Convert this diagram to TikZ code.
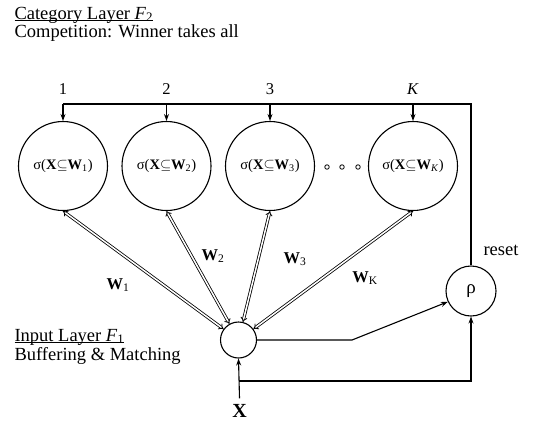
\documentclass[tikz,border=0pt]{standalone}
\usepackage{fontspec}
\setmainfont{Liberation Serif}
\usetikzlibrary{arrows.meta,positioning}

\begin{document}
\begin{tikzpicture}[
    x=1pt, y=-1pt,
    line width=1.1pt,
    category/.style={circle, draw, minimum size=89pt, inner sep=0pt, font=\fontsize{14.5}{16}\selectfont},
    input/.style={circle, draw, minimum size=36pt, inner sep=0pt},
    vigilance/.style={circle, draw, minimum size=50pt, inner sep=0pt, font=\fontsize{19}{20}\selectfont},
    dotnode/.style={circle, draw, line width=0.8pt, minimum size=4.5pt, inner sep=0pt},
    layertext/.style={font=\fontsize{18.5}{18}\selectfont, anchor=base west, inner sep=0pt},
    idx/.style={font=\fontsize{16.5}{18}\selectfont, anchor=base, inner sep=0pt},
    weight/.style={font=\fontsize{16.5}{18}\selectfont, anchor=base, inner sep=0pt},
    arrow/.style={-{Stealth[length=7pt,width=5pt]}},
    bidir/.style={{Implies[scale=1.25]}-{Implies[scale=1.25]}, double, double distance=1.5pt, line width=0.8pt}
]
\useasboundingbox (0,0) rectangle (537,429);

% Layer captions
\node[layertext] (f2_title) at (14,19) {\underline{\smash{Category Layer \textit{F}\textsubscript{2}}}};
\node[layertext] (f2_sub) at (14,37.5) {Competition: Winner takes all};
\node[layertext] (f1_title) at (14,341) {\underline{\smash{Input Layer \textit{F}\textsubscript{1}}}};
\node[layertext] (f1_sub) at (14,360) {Buffering \& Matching};

% Category nodes
\node[category] (cat_1) at (63,166) {σ(\textbf{X}$\subseteq$\textbf{W}\textsubscript{1})};
\node[category] (cat_2) at (166.5,166) {σ(\textbf{X}$\subseteq$\textbf{W}\textsubscript{2})};
\node[category] (cat_3) at (270,166) {σ(\textbf{X}$\subseteq$\textbf{W}\textsubscript{3})};
\node[category] (cat_K) at (413,166) {σ(\textbf{X}$\subseteq$\textbf{W}\textsubscript{\textit{K}})};
\node[dotnode] (dot_a) at (327,167) {};
\node[dotnode] (dot_b) at (342,167) {};
\node[dotnode] (dot_c) at (358,167) {};

% Indices
\node[idx] (idx_1) at (63,94.5) {1};
\node[idx] (idx_2) at (166.5,94.5) {2};
\node[idx] (idx_3) at (270,94.5) {3};
\node[idx] (idx_K) at (413,94.5) {\textit{K}};

% Input and reset nodes
\node[input] (inp) at (238.5,340) {};
\node[vigilance] (rho) at (471,291) {ρ};
\node[layertext] (reset_txt) at (483,255) {reset};
\node[font=\fontsize{20}{20}\selectfont\bfseries, anchor=base, inner sep=0pt] (x_in) at (239.5,417) {X};

% Weight labels
\node[weight] (w_1) at (118,289) {\textbf{W}\textsubscript{1}};
\node[weight] (w_2) at (213,260) {\textbf{W}\textsubscript{2}};
\node[weight] (w_3) at (295,263) {\textbf{W}\textsubscript{3}};
\node[weight] (w_K) at (365,282) {\textbf{W}\textsubscript{K}};

% Winner-takes-all bus
\coordinate (bus_l) at (63,104);
\coordinate (bus_r) at (471,104);
\draw (bus_l) -- (bus_r) -- (rho.north);
\draw[arrow] (bus_l) -- (cat_1.north);
\draw[arrow] (cat_2.north |- bus_l) -- (cat_2.north);
\draw[arrow] (cat_3.north |- bus_l) -- (cat_3.north);
\draw[arrow] (cat_K.north |- bus_l) -- (cat_K.north);

% Bottom-up / top-down weights
\draw[bidir] (cat_1.south) -- (inp);
\draw[bidir] (cat_2.south) -- (inp);
\draw[bidir] (cat_3.south) -- (inp);
\draw[bidir] (cat_K.south) -- (inp);

% Matching and reset path
\coordinate (bend) at (352,340);
\draw[arrow] (inp.east) -- (bend) -- (rho.205);
\coordinate (tap) at (238.5,381);
\draw[arrow] (x_in.north) ++(0,-5) -- (inp.south);
\draw[arrow] (tap) -- (tap -| rho) -- (rho.south);

\end{tikzpicture}
\end{document}
